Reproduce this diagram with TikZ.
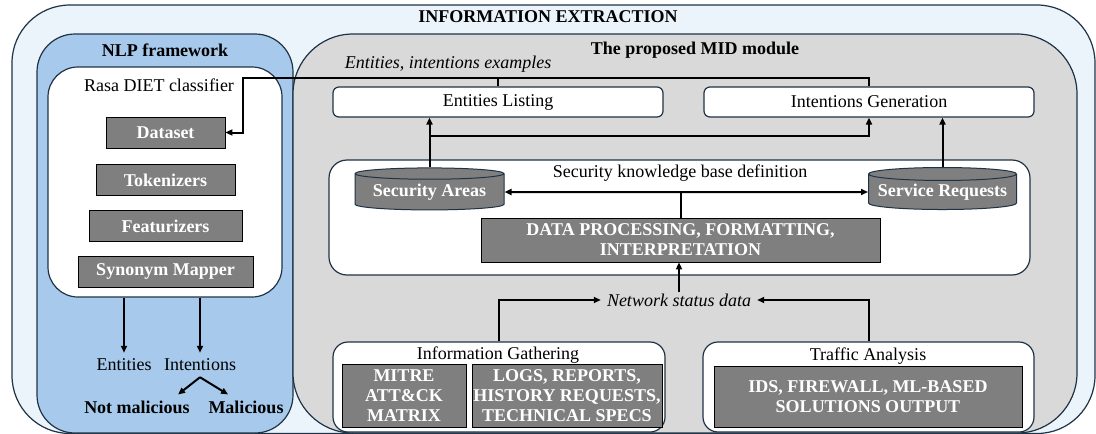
\documentclass[tikz,border=0pt]{standalone}
\usepackage{fontspec}
\setmainfont{Liberation Serif}
\usepackage{tikz}
\usetikzlibrary{positioning}
\usetikzlibrary{arrows.meta}
\usetikzlibrary{shapes.geometric}
\definecolor{outerblue}{HTML}{EBF3FB}
\definecolor{nlpblue}{HTML}{A6C9EC}
\definecolor{midgray}{HTML}{D9D9D9}
\definecolor{boxgray}{HTML}{7F7F7F}
\definecolor{edgecol}{HTML}{1F3346}

\begin{document}
\fontsize{18}{20}\selectfont
\begin{tikzpicture}[x=1pt,y=-1pt,
    arr/.style={line width=2pt,-{Triangle[length=7pt,width=6pt]}},
    arrboth/.style={line width=2pt,{Triangle[length=7pt,width=6pt]}-{Triangle[length=7pt,width=6pt]}},
    link/.style={line width=2pt},
    frame/.style={draw=edgecol,line width=1.2pt},
    panel/.style={draw=edgecol,line width=1.2pt,fill=white,inner sep=0pt},
    darkbox/.style={draw=black,line width=0.8pt,fill=boxgray,text=white,font=\bfseries,align=center,inner sep=0pt},
    drum/.style={cylinder,shape border rotate=90,aspect=0.1,draw=edgecol,line width=1pt,fill=boxgray,text=white,font=\bfseries,inner sep=0pt}]
    % frame
    \useasboundingbox (0,0) rectangle (1096,434);
    \fill[white] (0,0) rectangle (1096,434);
    % containers
    \draw[frame,fill=outerblue,rounded corners=58pt] (12,5) rectangle (1095,433.5);
    \draw[frame,fill=nlpblue,rounded corners=38pt] (37,34) rectangle (293,433);
    \draw[frame,fill=midgray,rounded corners=60pt] (293,34) rectangle (1077,433);
    % titles
    \node[font=\bfseries] (extraction) at (548,17) {INFORMATION EXTRACTION};
    \node[font=\bfseries] (nlptitle) at (165,50) {NLP framework};
    \node[font=\bfseries] (midtitle) at (695,50) {The proposed MID module};

    % NLP framework
    \node[panel,rounded corners=30pt,minimum width=234pt,minimum height=230pt] (rasa) at (165,182) {};
    \node (rasatitle) at (159,85) {Rasa DIET classifier};
    \foreach \name/\txt/\y/\w in {dataset/Dataset/132.5/119, tokenizers/Tokenizers/180/139,
        featurizers/Featurizers/226/153, synmapper/Synonym Mapper/271.5/175}
        \node[darkbox,minimum width=\w pt,minimum height=31pt] (\name) at (165.5,\y) {\txt};
    \node (entities) at (124,365) {Entities};
    \node (intentions) at (200,365) {Intentions};
    \node[font=\bfseries] (notmal) at (137,407) {Not malicious};
    \node[font=\bfseries] (mal) at (246,407) {Malicious};

    % MID module
    \node[font=\itshape] (examples) at (448,64) {Entities, intentions examples};
    \node[panel,rounded corners=6pt,minimum width=330pt,minimum height=30pt] (entlist) at (498,102) {Entities Listing};
    \node[panel,rounded corners=6pt,minimum width=330pt,minimum height=30pt] (intgen) at (869,102) {Intentions Generation};
    \node[panel,rounded corners=18pt,minimum width=701pt,minimum height=115pt] (kb) at (679.5,217.5) {};
    \node (kbtitle) at (680,173) {Security knowledge base definition};
    \node[drum,minimum width=149pt,minimum height=42pt] (secareas) at (429.5,192) {Security Areas};
    \node[drum,minimum width=148pt,minimum height=42pt] (servreq) at (942.5,192) {Service Requests};
    \node[darkbox,minimum width=399pt,minimum height=44pt] (dataproc) at (680.5,240) {DATA PROCESSING, FORMATTING,\\INTERPRETATION};
    \node[font=\itshape,inner xsep=6pt,inner ysep=1pt] (netdata) at (679,300) {Network status data};

    % sources
    \node[panel,rounded corners=15pt,minimum width=332pt,minimum height=90pt] (infogather) at (499,387) {};
    \node (gathertitle) at (498,355) {Information Gathering};
    \node[darkbox,minimum width=124pt,minimum height=63pt] (mitre) at (404,395.5) {MITRE\\ATT\&CK\\MATRIX};
    \node[darkbox,minimum width=190pt,minimum height=63pt] (logs) at (567,395.5) {LOGS, REPORTS,\\HISTORY REQUESTS,\\TECHNICAL SPECS};
    \node[panel,rounded corners=15pt,minimum width=331pt,minimum height=90pt] (traffic) at (868.5,387) {};
    \node (traffictitle) at (868,356) {Traffic Analysis};
    \node[darkbox,minimum width=308pt,minimum height=61pt] (ids) at (868,396.5) {IDS, FIREWALL, ML-BASED\\SOLUTIONS OUTPUT};

    % connectors
    \coordinate (bend) at (243,78);
    \draw[arr] (intgen.north) |- (bend) |- (dataset.east);
    \draw[link] (entlist.north) -- (entlist.north |- bend);
    \draw[arr] (secareas.north) -- (secareas.north |- entlist.south);
    \draw[arr] (secareas.north |- 0,136) -| (intgen.south);
    \draw[arr] (servreq.north) -- (servreq.north |- intgen.south);
    \draw[arrboth] (secareas.east) -- (servreq.west);
    \draw[link] (dataproc.north) -- (dataproc.north |- secareas.east);
    \draw[arr] (netdata.north) -- (netdata.north |- dataproc.south);
    \draw[arr] (infogather.north) |- (netdata.west);
    \draw[arr] (traffic.north) |- (netdata.east);
    \draw[arr] (entities.north |- rasa.south) -- (entities.north);
    \draw[arr] (intentions.north |- rasa.south) -- (intentions.north);
    \draw[arr] (intentions.south) -- (notmal.17);
    \draw[arr] (intentions.south) -- (mal.145);
\end{tikzpicture}
\end{document}
